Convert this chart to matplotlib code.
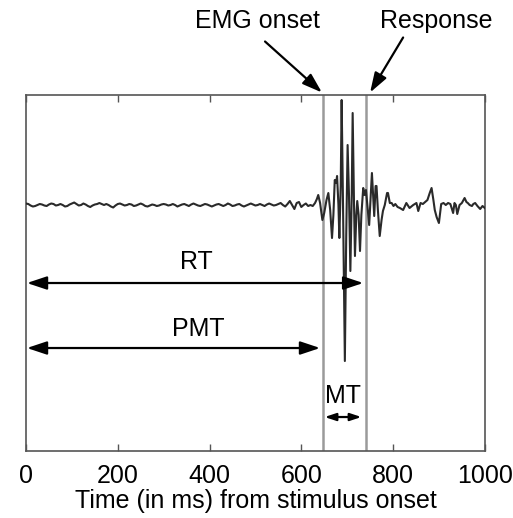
import numpy as np
import matplotlib
matplotlib.use("Agg")
import matplotlib.pyplot as plt

plt.rcParams['font.family'] = ['Liberation Sans', 'DejaVu Sans']

# ---- data ----
baseline_step_ms = 5
baseline_uv = [
    1.5, 1.0, -0.5, -1.5, -1.0, 0.0, 1.0, 0.5, -0.5, -1.0,
    0.5, 1.5, 1.0, -0.5, 0.0, 1.0, 0.0, -1.5, -1.0, 0.5,
    1.5, 2.5, 1.0, -0.5, 0.0, 1.5, 0.5, -1.0, -2.0, -0.5,
    0.5, 1.0, 2.0, 1.0, 0.0, 1.0, 0.0, -1.5, -2.5, -0.5,
    1.0, 1.5, 0.5, -0.5, 0.0, 1.0, 0.5, -1.0, -0.5, 0.5,
    1.5, 0.5, -1.0, -1.5, -0.5, 0.5, 0.0, -1.0, -0.5, 0.5,
    1.0, 0.5, -0.5, 0.0, 1.0, 0.0, -1.5, -0.5, 0.5, 1.0,
    0.0, -1.0, 0.5, 1.5, 0.5, -0.5, -1.0, 0.0, 1.0, 0.5,
    -0.5, -1.5, -0.5, 0.5, 1.0, 0.0, -1.0, 0.0, 1.5, 0.5,
    -1.0, -0.5, 0.5, 1.0, -0.5, -1.5, -0.5, 0.5, 1.5, 0.5,
    -0.5, 0.0, 1.0, 0.0, -1.0, 0.5, 1.5, 0.5, -0.5, 0.0,
    1.0, 2.0, 0.0, -1.5, 1.0, 4.0, 0.0, -4.0, 2.0, 3.0,
    -2.0, 0.0, 1.5, -1.0, 0.0,
]
burst_ms = [
    625, 630, 634, 637, 641, 646, 650, 655, 659, 663, 667, 670, 673, 676,
    678, 681, 683, 686, 688, 691, 695, 698, 701, 704, 707, 710, 712, 715,
    717, 720, 722, 725, 728, 731, 735, 738, 741, 745, 748, 751, 754, 757,
    759, 762, 764, 767, 771, 775, 778, 782, 787, 789, 793, 797, 801, 805,
    810, 815, 822, 829, 836, 844, 851, 855, 860, 865, 870, 875, 880, 884,
    888, 891, 895, 900, 905, 910, 915, 920, 925, 931, 934, 937, 940, 945,
    950, 956, 960, 963, 967, 972, 975, 979, 984, 990, 995, 1000,
]
burst_uv = [
    -1, 2, 6, 10, 2, -15, -8, 5, 12, -5, -33, -10, 25, 22,
    29, 0, -33, 20, 105, 0, -156, -30, 60, 10, -66, 10, 92, 0,
    -51, -10, 4, -10, -46, -10, 17, 10, 15, -5, -20, 5, 32, 5,
    -11, 19, 19, -5, -31, -15, -6, 0, 12, 12, 2, 2, -1, 1,
    -2, -3, -5, 2, -3, 0, 2, -6, 2, 1, 3, 5, 12, 17,
    5, -5, -12, -18, 1, 2, 0, 2, 1, -8, 2, 0, -9, 0,
    2, 7, 3, 2, 0, -1, 1, 2, -1, -4, -1, -3,
]
xticks = [0, 200, 400, 600, 800, 1000]
emg_onset_ms = 648
response_ms = 741

baseline_ms = np.arange(len(baseline_uv)) * baseline_step_ms
time_ms = np.concatenate([baseline_ms, np.array(burst_ms)])
signal = np.concatenate([np.array(baseline_uv), np.array(burst_uv)])

FS = 18

# ---- figure ----
fig = plt.figure(figsize=(5.13, 5.18), dpi=100)
ax = fig.add_axes([0.0507, 0.1293, 0.8943, 0.6873])

ax.plot(time_ms, signal, color='#2a2a2a', lw=1.5, zorder=3)
ax.axvline(emg_onset_ms, color='#9a9a9a', lw=1.8, zorder=2)
ax.axvline(response_ms, color='#9a9a9a', lw=1.8, zorder=2)

ax.set_xlim(0, 1000)
ax.set_ylim(-246, 110)
ax.set_xticks(xticks)
ax.set_xticklabels([str(v) for v in xticks], fontsize=FS)
ax.set_yticks([])
ax.tick_params(axis='x', direction='in', length=5, width=1, color='#555555',
               top=True, pad=9)
for s in ax.spines.values():
    s.set_color('#555555')
    s.set_linewidth(1.2)
ax.set_xlabel('Time (in ms) from stimulus onset', fontsize=FS, labelpad=1)

# interval arrows
def dbl_arrow(x0, x1, y, scale):
    ax.annotate('', xy=(x1, y), xytext=(x0, y),
                arrowprops=dict(arrowstyle='<|-|>,head_length=0.6,head_width=0.2',
                                mutation_scale=scale, color='black', lw=1.6,
                                shrinkA=0, shrinkB=0), zorder=4)

dbl_arrow(2, 735, -78, 20)
dbl_arrow(2, 641, -143, 20)
dbl_arrow(651, 731, -212, 11)
ax.text(372, -57, 'RT', ha='center', va='center', fontsize=FS)
ax.text(375, -124, 'PMT', ha='center', va='center', fontsize=FS)
ax.text(690, -191, 'MT', ha='center', va='center', fontsize=FS)

# annotations above
ax.annotate('', xy=(645, 112.5), xytext=(521, 163.5), annotation_clip=False,
            arrowprops=dict(arrowstyle='-|>,head_length=0.6,head_width=0.2',
                            mutation_scale=20, color='black', lw=1.6,
                            shrinkA=0, shrinkB=0))
ax.annotate('', xy=(750, 112.5), xytext=(822, 167.5), annotation_clip=False,
            arrowprops=dict(arrowstyle='-|>,head_length=0.6,head_width=0.2',
                            mutation_scale=20, color='black', lw=1.6,
                            shrinkA=0, shrinkB=0))
ax.text(505, 184, 'EMG onset', ha='center', va='center', fontsize=FS, clip_on=False)
ax.text(895, 184, 'Response', ha='center', va='center', fontsize=FS, clip_on=False)

fig.savefig('out.png', dpi=100)
